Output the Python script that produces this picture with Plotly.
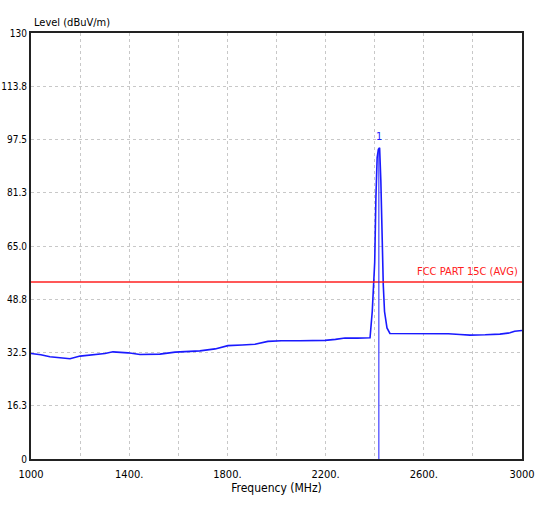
import plotly.graph_objects as go

freq = [1000, 1040, 1077, 1120, 1159, 1200, 1250, 1301, 1334, 1395, 1444, 1500, 1525, 1587, 1640, 1688,
        1750, 1802, 1860, 1912, 1965, 2020, 2096, 2150, 2198, 2240, 2279, 2330, 2381,
        2390, 2400, 2405, 2410, 2415, 2420, 2425, 2430, 2435, 2440, 2450, 2462,
        2520, 2585, 2650, 2700, 2747, 2788, 2850, 2910, 2951, 2970, 3000]
level = [32.2, 31.8, 31.2, 30.9, 30.6, 31.4, 31.8, 32.2, 32.7, 32.4, 31.9, 31.9, 32.0, 32.6, 32.8, 33.0,
         33.6, 34.6, 34.8, 35.0, 35.9, 36.1, 36.1, 36.1, 36.2, 36.5, 36.9, 36.9, 37.0,
         45.0, 60.0, 80.0, 92.0, 94.5, 95.0, 85.0, 65.0, 53.0, 45.0, 40.0, 38.3,
         38.3, 38.3, 38.3, 38.2, 38.0, 37.8, 37.9, 38.1, 38.5, 39.0, 39.2]

limit_freq = [1000, 3000]
limit_level = [54, 54]
limit_label = "FCC PART 15C (AVG)"

marker_freq = 2417
marker_level = 94.0
marker_label = "1"

y_ticks = [0, 16.25, 32.5, 48.75, 65, 81.25, 97.5, 113.75, 130]
y_ticktext = ["0", "16.3", "32.5", "48.8", "65.0", "81.3", "97.5", "113.8", "130"]
x_ticks = [1000, 1200, 1400, 1600, 1800, 2000, 2200, 2400, 2600, 2800, 3000]
x_ticktext = ["1000", "", "1400.", "", "1800.", "", "2200.", "", "2600.", "", "3000"]

FONT = "DejaVu Sans Condensed, Liberation Sans Narrow, Arial Narrow, sans-serif"
BLUE = "#1a1aff"
RED = "#ff2020"

fig = go.Figure()
fig.add_trace(go.Scatter(x=freq, y=level, mode="lines", line=dict(color=BLUE, width=1.6, shape="linear"),
                         hoverinfo="skip", showlegend=False))
fig.add_trace(go.Scatter(x=limit_freq, y=limit_level, mode="lines", line=dict(color=RED, width=1.6),
                         hoverinfo="skip", showlegend=False))
fig.add_trace(go.Scatter(x=[marker_freq, marker_freq], y=[0, marker_level], mode="lines",
                         line=dict(color=BLUE, width=1), hoverinfo="skip", showlegend=False))

fig.add_annotation(x=marker_freq, y=marker_level, text=marker_label, showarrow=False,
                   yshift=14, font=dict(family=FONT, size=11, color=BLUE))
fig.add_annotation(x=limit_freq[1], y=limit_level[0], text=limit_label, showarrow=False,
                   xanchor="right", yanchor="bottom", xshift=-2, yshift=2,
                   font=dict(family=FONT, size=11, color=RED))
fig.add_annotation(xref="paper", yref="paper", x=0, y=1, text="Level (dBuV/m)", showarrow=False,
                   xanchor="left", yanchor="bottom", xshift=1, yshift=2,
                   font=dict(family=FONT, size=11, color="#000000"))

fig.update_layout(
    width=544, height=508,
    margin=dict(l=31, r=22, t=33, b=49),
    paper_bgcolor="white", plot_bgcolor="white",
    font=dict(family=FONT, size=11, color="#000000"),
    xaxis=dict(range=[1000, 3000], tickvals=x_ticks, ticktext=x_ticktext, automargin=False,
               showgrid=True, gridcolor="#c8c8c8", griddash="dot", gridwidth=1,
               showline=True, linecolor="#222222", linewidth=2, mirror=True,
               ticks="", zeroline=False, tickfont=dict(size=11), ticklabelstandoff=4,
               title=dict(text="Frequency (MHz)", font=dict(size=12), standoff=2)),
    yaxis=dict(range=[0, 130], tickvals=y_ticks, ticktext=y_ticktext, automargin=False,
               showgrid=True, gridcolor="#c8c8c8", griddash="dot", gridwidth=1,
               showline=True, linecolor="#222222", linewidth=2, mirror=True,
               ticks="", zeroline=False, tickfont=dict(size=10), ticklabelstandoff=0),
)

fig.write_html("out.html", config={"displayModeBar": False},
               post_script="document.body.style.margin='0';document.body.style.padding='0';")
